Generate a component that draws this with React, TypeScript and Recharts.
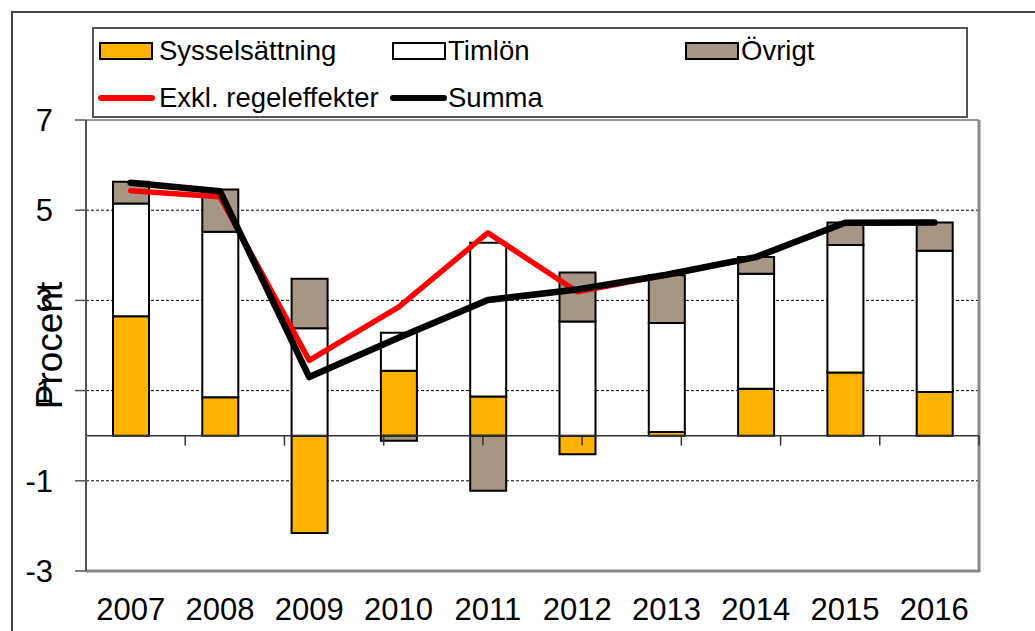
import React from 'react';
import * as Recharts from 'recharts';
import {
  ComposedChart,
  Bar,
  Line,
  XAxis,
  YAxis,
  CartesianGrid,
  ReferenceLine,
  Legend,
} from 'recharts';

const years = ['2007', '2008', '2009', '2010', '2011', '2012', '2013', '2014', '2015', '2016'];
const sysselsattning = [2.65, 0.85, -2.16, 1.44, 0.87, -0.41, 0.08, 1.04, 1.4, 0.97];
const timlon = [2.5, 3.67, 2.38, 0.84, 3.41, 2.53, 2.42, 2.55, 2.83, 3.13];
const ovrigt = [0.48, 0.94, 1.1, -0.11, -1.22, 1.09, 1.06, 0.37, 0.5, 0.63];
const exklRegeleffekter = [5.43, 5.3, 1.67, 2.85, 4.5, 3.19, 3.57, 3.96, 4.72, 4.73];
const summa = [5.61, 5.42, 1.3, 2.17, 3.01, 3.24, 3.57, 3.96, 4.72, 4.73];
const yTicks = [-3, -1, 1, 3, 5, 7];
const boundaryTicks = [1, 2, 3, 4, 5, 6, 7, 8, 9];

const data = years.map((year, i) => ({
  year,
  syss: sysselsattning[i],
  timlon: timlon[i],
  ovrigt: ovrigt[i],
  exkl: exklRegeleffekter[i],
  summa: summa[i],
}));

const FONT = '"Liberation Sans", Arial, sans-serif';
const ORANGE = '#FFB300';
const TAN = '#A69686';

const PlotFrame = () => {
  const R: any = Recharts;
  const hook = R.usePlotArea || R.useOffset;
  const area: any = hook ? hook() : null;
  if (!area) return null;
  const x = area.x ?? area.left;
  const y = area.y ?? area.top;
  const w = area.width;
  const h = area.height;
  if (x == null || y == null || w == null || h == null) return null;
  return (
    <g>
      <line x1={x} y1={y} x2={x + w} y2={y} stroke="#999" strokeWidth={2} />
      <line x1={x + w} y1={y} x2={x + w} y2={y + h} stroke="#888" strokeWidth={3} />
      <line x1={x} y1={y + h} x2={x + w + 1.5} y2={y + h} stroke="#888" strokeWidth={3} />
    </g>
  );
};

const ProcentLabel = (props: any) => {
  const vb = props.viewBox || {};
  const px = (vb.x || 0) + (vb.width || 0) - 24;
  const py = (vb.y || 0) + (vb.height || 0) / 2;
  return (
    <text
      x={px}
      y={py}
      transform={`rotate(-90 ${px} ${py})`}
      textAnchor="middle"
      fontSize={37}
      fontFamily={FONT}
      fill="#000"
    >
      Procent
    </text>
  );
};

const textStyle = (left: number, cy: number): React.CSSProperties => ({
  position: 'absolute',
  left,
  top: cy - 14,
  fontSize: 27.5,
  lineHeight: '28px',
  fontFamily: FONT,
  color: '#000',
  whiteSpace: 'nowrap',
});

const swatch = (left: number, cy: number, fill: string): React.CSSProperties => ({
  position: 'absolute',
  left,
  top: cy - 9,
  width: 54,
  height: 18,
  background: fill,
  border: '2px solid #000',
  boxSizing: 'border-box',
});

const lineSwatch = (left: number, cy: number, color: string): React.CSSProperties => ({
  position: 'absolute',
  left,
  top: cy - 3,
  width: 57,
  height: 6,
  background: color,
  borderRadius: 3,
});

const LegendBox = () => (
  <div
    style={{
      position: 'relative',
      width: 876,
      height: 91,
      border: '2px solid #555',
      boxSizing: 'border-box',
      background: '#fff',
    }}
  >
    <div style={swatch(5, 22, ORANGE)} />
    <div style={textStyle(65, 22)}>Sysselsättning</div>
    <div style={swatch(298, 22, '#fff')} />
    <div style={textStyle(354, 22)}>Timlön</div>
    <div style={swatch(591, 22, TAN)} />
    <div style={textStyle(647, 22)}>Övrigt</div>
    <div style={lineSwatch(4, 69, '#FF0000')} />
    <div style={textStyle(65, 69)}>Exkl. regeleffekter</div>
    <div style={lineSwatch(296, 69, '#000')} />
    <div style={textStyle(354, 69)}>Summa</div>
  </div>
);

export default function App() {
  return (
    <div
      style={{
        position: 'absolute',
        left: 0,
        top: 0,
        width: 1035,
        height: 631,
        background: '#fff',
        overflow: 'hidden',
      }}
    >
      <div
        style={{
          position: 'absolute',
          left: 11,
          top: 11,
          width: 1030,
          height: 630,
          borderTop: '2px solid #444',
          borderLeft: '2px solid #444',
        }}
      />
      <div style={{ position: 'absolute', left: 0, top: 0 }}>
        <ComposedChart
          width={1035}
          height={631}
          data={data}
          stackOffset="sign"
          margin={{ top: 120, right: 56, bottom: 0, left: 0 }}
          barSize={36}
        >
          <CartesianGrid vertical={false} stroke="#000" strokeDasharray="3 2" strokeWidth={1} />
          <XAxis
            dataKey="year"
            height={60}
            axisLine={false}
            tickLine={false}
            tickSize={0}
            tickMargin={27}
            interval={0}
            tick={{ fontSize: 31, fill: '#000', fontFamily: FONT }}
          />
          <XAxis xAxisId="num" type="number" domain={[0, 10]} hide allowDataOverflow />
          <YAxis
            width={86}
            domain={[-3, 7]}
            ticks={yTicks}
            interval={0}
            allowDataOverflow
            tickSize={11}
            tickMargin={22}
            axisLine={{ stroke: '#555', strokeWidth: 2 }}
            tickLine={{ stroke: '#555', strokeWidth: 1.5 }}
            tick={{ fontSize: 31, fill: '#000', fontFamily: FONT }}
            label={<ProcentLabel />}
          />
          <Legend
            layout="vertical"
            align="center"
            verticalAlign="middle"
            wrapperStyle={{ left: 92, top: 27, width: 876, height: 91 }}
            content={() => <LegendBox />}
          />
          <Bar dataKey="syss" stackId="a" fill={ORANGE} stroke="#000" strokeWidth={2} isAnimationActive={false} />
          <Bar dataKey="timlon" stackId="a" fill="#fff" stroke="#000" strokeWidth={2} isAnimationActive={false} />
          <Bar dataKey="ovrigt" stackId="a" fill={TAN} stroke="#000" strokeWidth={2} isAnimationActive={false} />
          <ReferenceLine y={0} stroke="#333" strokeWidth={1.5} />
          {boundaryTicks.map((t) => (
            <ReferenceLine
              key={t}
              xAxisId="num"
              segment={[
                { x: t, y: 0 },
                { x: t, y: -0.22 },
              ]}
              stroke="#333"
              strokeWidth={1.5}
            />
          ))}
          <PlotFrame />
          <Line
            type="linear"
            dataKey="exkl"
            stroke="#FF0000"
            strokeWidth={5.5}
            dot={false}
            strokeLinecap="round"
            strokeLinejoin="round"
            isAnimationActive={false}
          />
          <Line
            type="linear"
            dataKey="summa"
            stroke="#000"
            strokeWidth={6.5}
            dot={false}
            strokeLinecap="round"
            strokeLinejoin="round"
            isAnimationActive={false}
          />
        </ComposedChart>
      </div>
    </div>
  );
}
